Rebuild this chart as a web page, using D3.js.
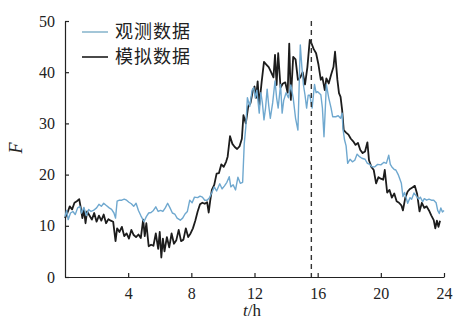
<!DOCTYPE html>
<html>
<head>
<meta charset="utf-8">
<script src="https://cdn.jsdelivr.net/npm/d3@7"></script>
<style>
  body { margin: 0; background: #fff; }
  svg { display: block; }
  .axis text { font-family: "Liberation Serif", "DejaVu Serif", serif; font-size: 16px; fill: #222; }
  .axis path, .axis line { stroke: #222; stroke-width: 1.2px; }
</style>
</head>
<body>
<div id="chart"></div>
<script>
// observed series (hours, value)
const obsT = [0,0.1,0.2,0.35,0.5,0.65,0.8,0.95,1.05,1.2,1.35,1.5,1.65,1.8,2.0,2.15,2.3,2.45,2.6,2.8,2.95,3.1,3.2,3.3,3.45,3.6,3.75,3.9,4.05,4.2,4.35,4.5,4.65,4.8,5.0,5.15,5.3,5.45,5.6,5.75,5.9,6.05,6.2,6.35,6.5,6.65,6.8,6.95,7.1,7.3,7.45,7.6,7.75,7.9,8.05,8.2,8.4,8.55,8.7,8.85,9.0,9.15,9.3,9.45,9.6,9.8,9.95,10.1,10.25,10.4,10.5,10.65,10.8,10.95,11.1,11.25,11.35,11.45,11.55,11.7,11.85,11.95,12.05,12.15,12.3,12.4,12.5,12.6,12.7,12.8,12.9,13.0,13.15,13.3,13.4,13.5,13.65,13.75,13.85,14.0,14.15,14.3,14.45,14.6,14.75,14.9,15.0,15.1,15.2,15.3,15.4,15.5,15.65,15.8,15.9,16.0,16.2,16.3,16.4,16.5,16.55,16.7,16.85,16.95,17.15,17.3,17.45,17.55,17.6,17.7,17.8,17.9,18.05,18.2,18.35,18.5,18.65,18.8,19.0,19.15,19.3,19.45,19.6,19.8,20.0,20.2,20.35,20.5,20.6,20.7,20.85,20.95,21.1,21.3,21.4,21.5,21.6,21.7,21.85,21.95,22.1,22.25,22.4,22.5,22.65,22.75,22.9,23.05,23.2,23.35,23.5,23.6,23.7,23.8,23.9,24.0];
const obsF = [11.8,13,11.2,12.5,12.8,12.2,13.5,13.8,12.5,13.6,12,13.2,12.8,13,13.5,14.2,13.8,14.4,14,13.5,13.2,12.5,11.5,14.8,15,15,15.2,15,14.6,14.3,13.8,14.4,13,12,10.8,11.8,12.5,12.6,13,13.7,12.8,13,12.8,13.5,14.4,13.5,12.5,12.3,11.5,11.1,11.5,12.3,12.8,15,14.5,15.6,15.5,15.8,15.6,15,15,15.5,16.5,17.6,16.8,18.2,17.2,17.8,18.5,19.6,17.6,18,17,19.5,18.3,18.5,26,29.3,35,33.3,36.5,37,35,36.5,32,36,34,30.7,33,36.7,33.5,31,34,38.3,35,33,37.6,32,34.5,36,35,37.5,35,31,28.7,45.3,41,37.5,35.5,33,35.5,35.5,33,37.6,36,36.2,35.6,33,27.4,34,37.6,35,33,31.3,31.3,31.5,31,32,29,26.8,25.6,22.2,23,22.5,22.8,24,23.5,23.2,23,22.2,22,21.5,21.5,22,21.9,22.4,22.2,23.8,22,21.5,21,20.9,20,18.3,15.7,16.5,15.5,14.4,15.5,15.2,16.4,15.8,15.2,15.6,14.7,15.3,15,15.2,15,15,14.5,13,12.4,13.5,12.7,13];

// simulated series (hours, value)
const simT = [0,0.15,0.3,0.45,0.6,0.75,0.9,1.0,1.1,1.2,1.3,1.4,1.55,1.7,1.85,2.0,2.15,2.3,2.45,2.6,2.75,2.9,3.05,3.2,3.3,3.45,3.6,3.75,3.9,4.05,4.2,4.35,4.5,4.65,4.8,4.95,5.05,5.15,5.3,5.45,5.6,5.75,5.9,6.0,6.1,6.2,6.3,6.45,6.6,6.75,6.9,7.05,7.2,7.35,7.5,7.65,7.8,7.95,8.1,8.25,8.4,8.55,8.7,8.85,9.0,9.1,9.2,9.3,9.45,9.6,9.75,9.9,10.05,10.2,10.3,10.45,10.6,10.75,10.9,11.05,11.2,11.3,11.45,11.6,11.75,11.9,12.0,12.1,12.2,12.3,12.45,12.6,12.75,12.9,13.05,13.2,13.3,13.4,13.5,13.65,13.8,13.95,14.1,14.2,14.3,14.45,14.6,14.75,14.9,15.05,15.2,15.35,15.5,15.6,15.75,15.9,16.05,16.2,16.3,16.45,16.55,16.7,16.85,17.0,17.1,17.25,17.35,17.45,17.55,17.65,17.8,17.95,18.1,18.25,18.4,18.55,18.7,18.85,19.0,19.15,19.25,19.4,19.55,19.7,19.85,20.0,20.15,20.25,20.4,20.55,20.7,20.85,21.0,21.15,21.3,21.4,21.55,21.7,21.85,22.0,22.15,22.3,22.45,22.6,22.75,22.9,23.05,23.2,23.35,23.45,23.55,23.65,23.75];
const simF = [11.5,12.5,13.8,13.2,14.5,14.8,15.2,13.5,11.5,13.2,10.5,12.8,12,11.2,12.5,10.8,12,11,12.2,10.5,11.3,11,10.8,7,9.5,8.8,9.8,8,8.5,7.5,9.2,8.2,7.8,8.3,7.6,11.2,8,10.5,6,6.3,6.1,8.5,5.5,8.8,3.8,7.5,5,7.8,5.8,8.5,6.5,7.2,9.2,7,7.3,9.5,7.8,8.5,9.5,11,12.8,14.2,14.5,14.3,14.6,12.6,15,17,18,20.2,20.3,22,21.5,22.5,23.5,27.5,26,25.4,25,25.5,27,31.6,30,33.3,34,36.5,37.2,35,38.2,33.5,38,42,41.5,41,40,39,43.4,37.5,43.7,37,37.8,38,36,45.6,34.6,43,42.5,38.5,39,40,37.6,41,46.3,45.7,44.5,43.7,41.5,38.5,39,36.5,38.8,37.8,39.5,41,44,38.5,35.9,35.2,32.6,28.7,28.2,27.8,27,26.5,25.8,26.2,24.8,24.2,24.5,26.3,22.8,21.5,20.9,18.3,19.5,19.2,19,20.9,16.5,17,15.5,16.3,14.8,14.5,14,13,15.5,16.7,17.2,17.5,17.8,16.2,12.8,14.5,13.5,13.8,13,12,11.1,9.5,11,9.8,11];

const xTicks = [4, 8, 12, 16, 20, 24];
const yTicks = [0, 10, 20, 30, 40, 50];
const markT = 15.6; // dashed marker
const seriesNames = ['观测数据', '模拟数据'];

const width = 458, height = 322;
const padL = 65, padR = 444, padT = 21, padB = 277;

const svg = d3.select('#chart').append('svg')
  .attr('width', width)
  .attr('height', height);

const x = d3.scaleLinear().domain([0, 24]).range([padL, padR]);
const y = d3.scaleLinear().domain([0, 50]).range([padB, padT]);

svg.append('g')
  .attr('class', 'axis')
  .attr('transform', 'translate(0,' + padB + ')')
  .call(d3.axisBottom(x).tickValues(xTicks).tickSize(-4).tickSizeOuter(0).tickPadding(11));

svg.append('g')
  .attr('class', 'axis')
  .attr('transform', 'translate(' + padL + ',0)')
  .call(d3.axisLeft(y).tickValues(yTicks).tickSize(-4).tickSizeOuter(0).tickPadding(10));

const sim = simT.map((t, i) => ({ t: t, v: simF[i] }));
const obs = obsT.map((t, i) => ({ t: t, v: obsF[i] }));

const line = d3.line()
  .x(d => x(d.t))
  .y(d => y(d.v));

svg.append('path')
  .datum(sim)
  .attr('fill', 'none')
  .attr('stroke', '#1c1c1c')
  .attr('stroke-width', 1.8)
  .attr('stroke-linejoin', 'round')
  .attr('d', line);

svg.append('path')
  .datum(obs)
  .attr('fill', 'none')
  .attr('stroke', '#6fa8cf')
  .attr('stroke-width', 1.4)
  .attr('stroke-linejoin', 'round')
  .attr('d', line);

// dashed vertical marker
svg.append('line')
  .attr('x1', x(markT)).attr('x2', x(markT))
  .attr('y1', y(50)).attr('y2', y(0))
  .attr('stroke', '#333')
  .attr('stroke-width', 1.4)
  .attr('stroke-dasharray', '5,4');

// legend
const legendColors = ['#8cb8cf', '#1c1c1c'];
const lg = svg.append('g');
seriesNames.forEach(function (name, i) {
  lg.append('line')
    .attr('x1', 82).attr('x2', 108)
    .attr('y1', 32 + i * 25).attr('y2', 32 + i * 25)
    .attr('stroke', legendColors[i])
    .attr('stroke-width', 1.6);
  lg.append('text')
    .attr('x', 115)
    .attr('y', 32 + i * 25)
    .attr('dy', '0.35em')
    .style('font-family', '"Noto Sans CJK SC", sans-serif')
    .style('font-size', '18px')
    .style('letter-spacing', '1px')
    .style('fill', '#222')
    .text(name);
});

// axis titles
svg.append('text')
  .attr('transform', 'translate(22,148) rotate(-90)')
  .attr('text-anchor', 'middle')
  .style('font-family', '"Liberation Serif", serif')
  .style('font-style', 'italic')
  .style('font-size', '18px')
  .style('fill', '#222')
  .text('F');

const xt = svg.append('text')
  .attr('x', 252)
  .attr('y', 316)
  .attr('text-anchor', 'middle')
  .style('font-family', '"Liberation Serif", serif')
  .style('font-size', '17px')
  .style('fill', '#222');
xt.append('tspan').style('font-style', 'italic').text('t');
xt.append('tspan').text('/h');
</script>
</body>
</html>
